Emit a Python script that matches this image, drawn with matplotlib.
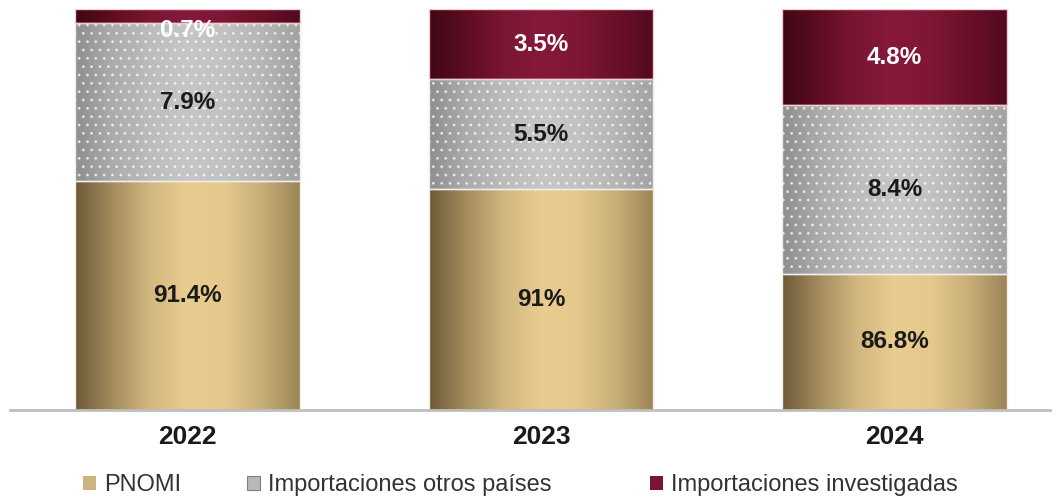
import matplotlib
matplotlib.use("Agg")
import matplotlib.pyplot as plt
import numpy as np
from matplotlib.colors import LinearSegmentedColormap
from matplotlib.patches import Rectangle

years = ["2022", "2023", "2024"]
pnomi = [91.4, 91.0, 86.8]
otros = [7.9, 5.5, 8.4]
investigadas = [0.7, 3.5, 4.8]
pnomi_labels = ["91.4%", "91%", "86.8%"]
otros_labels = ["7.9%", "5.5%", "8.4%"]
inv_labels = ["0.7%", "3.5%", "4.8%"]
legend_labels = ["PNOMI", "Importaciones otros países", "Importaciones investigadas"]

plt.rcParams['font.family'] = ['Liberation Sans', 'DejaVu Sans']

W, H = 1057, 497
fig = plt.figure(figsize=(W / 100, H / 100), dpi=100)
ax = fig.add_axes([10 / W, 87 / H, 1040 / W, 401 / H])

cm_tan = LinearSegmentedColormap.from_list("tan", ["#6e5a38", "#a58c5e", "#d2b77f", "#e9cc8f", "#e4c88c", "#c8ae78", "#9c8458"])
cm_gray = LinearSegmentedColormap.from_list("gray", ["#8e8e8e", "#acacac", "#bcbcbc", "#c6c6c6", "#c2c2c2", "#b6b6b6", "#a2a2a2"])
cm_red = LinearSegmentedColormap.from_list("red", ["#3e0714", "#5e0d22", "#7a1632", "#86193a", "#7e1634", "#6a1029", "#520a1f"])

ymin = 80
x = np.arange(len(years))
w = 0.636
bottoms_inv = [p + o for p, o in zip(pnomi, otros)]

b1 = ax.bar(x, pnomi, width=w, color="#d2b77f", linewidth=0, zorder=2)
b2 = ax.bar(x, otros, width=w, bottom=pnomi, color="#bdbdbd", linewidth=0, zorder=2)
b3 = ax.bar(x, investigadas, width=w, bottom=bottoms_inv, color="#7a1632", linewidth=0, zorder=2)

grad = np.linspace(0, 1, 256).reshape(1, -1)
for bars, cm in ((b1, cm_tan), (b2, cm_gray), (b3, cm_red)):
    for p in bars:
        x0, y0 = p.get_x(), max(p.get_y(), ymin)
        y1 = p.get_y() + p.get_height()
        ax.imshow(grad, cmap=cm, aspect="auto", extent=(x0, x0 + p.get_width(), y0, y1),
                  zorder=2.1, interpolation="bilinear")

# dotted texture on gray segments
plt.rcParams['hatch.linewidth'] = 0.9
ax.bar(x, otros, width=w, bottom=pnomi, color="none", edgecolor=(1, 1, 1, 0.6), hatch="..", linewidth=0, zorder=2.2)
# borders on top
ax.bar(x, pnomi, width=w, color="none", edgecolor="#f3eee6", linewidth=1, zorder=2.3)
ax.bar(x, otros, width=w, bottom=pnomi, color="none", edgecolor="#eeeeee", linewidth=1, zorder=2.3)
ax.bar(x, investigadas, width=w, bottom=bottoms_inv, color="none", edgecolor="#f2cccc", linewidth=1, zorder=2.3)

fs = 17.5
for i in range(len(years)):
    ax.text(x[i], (ymin + pnomi[i]) / 2, pnomi_labels[i], ha="center", va="center", fontsize=fs,
            fontweight="bold", color="#1a1a1a", zorder=5)
    ax.text(x[i], pnomi[i] + otros[i] / 2, otros_labels[i], ha="center", va="center", fontsize=fs,
            fontweight="bold", color="#1a1a1a", zorder=5)
    yv = bottoms_inv[i] + investigadas[i] / 2
    if investigadas[i] < 1.5:
        yv = bottoms_inv[i] - 0.35
    ax.text(x[i], yv, inv_labels[i], ha="center", va="center", fontsize=fs,
            fontweight="bold", color="white", zorder=5)

ax.set_ylim(ymin, 100)
ax.set_xlim(-0.502, 2.44)
for s in ("top", "right", "left"):
    ax.spines[s].set_visible(False)
ax.spines["bottom"].set_color("#bfbfbf")
ax.spines["bottom"].set_linewidth(2)
ax.spines["bottom"].set_zorder(3)
ax.set_yticks([])
ax.set_xticks(x)
ax.set_xticklabels(years, fontsize=19, fontweight="bold", color="#1a1a1a")
ax.tick_params(axis="x", length=0, pad=10.5)

handles = [
    Rectangle((0, 0), 1, 1, facecolor="#cdb380", edgecolor="none"),
    Rectangle((0, 0), 1, 1, facecolor="#b8b8b8", edgecolor="#7f7f7f", linewidth=0.8),
    Rectangle((0, 0), 1, 1, facecolor="#7a1632", edgecolor="none"),
]
leg_x = [83, 247, 650]
for hnd, lab, lx in zip(handles, legend_labels, leg_x):
    lg = fig.legend([hnd], [lab], loc="center left", bbox_to_anchor=(lx / W, 12 / H), frameon=False,
                    fontsize=17, handlelength=0.55, handleheight=0.55, handletextpad=0.35,
                    borderpad=0, borderaxespad=0, labelcolor="#333333")

fig.savefig("out.png", dpi=100)
